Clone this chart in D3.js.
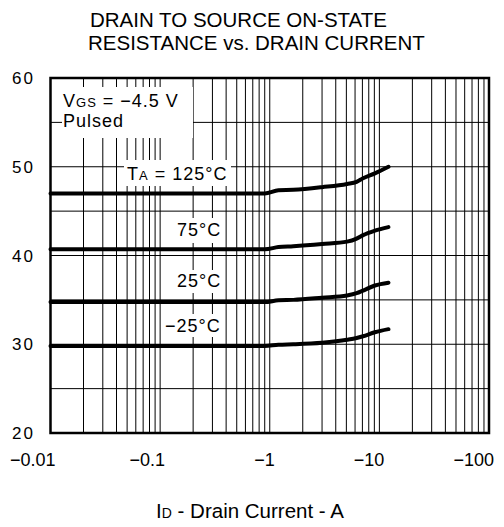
<!DOCTYPE html>
<html>
<head>
<meta charset="utf-8">
<script src="https://cdn.jsdelivr.net/npm/d3@7"></script>
<style>
  body { margin: 0; background: #fff; }
  text { font-family: "Liberation Sans", Arial, sans-serif; fill: #000; }
</style>
</head>
<body>
<script>
// drain current magnitude (A) and on-state resistance (mOhm) per temperature
const current = [0.01, 0.1, 0.9, 1.2, 1.64, 3.0, 5.07, 6.2, 7.1, 9.1, 12.1];
const r125 = [47.0, 47.0, 47.0, 47.35, 47.4, 47.7, 48.06, 48.3, 48.7, 49.26, 50.0];
const r75 = [40.7, 40.7, 40.7, 40.95, 41.05, 41.3, 41.56, 41.9, 42.3, 42.8, 43.2];
const r25 = [34.75, 34.75, 34.75, 34.95, 35.0, 35.25, 35.5, 35.75, 36.05, 36.62, 36.94];
const rm25 = [29.8, 29.8, 29.8, 29.95, 30.0, 30.17, 30.5, 30.7, 30.9, 31.35, 31.7];

const xTicks = [0.01, 0.1, 1, 10, 100];
const xTickLabels = ["\u22120.01", "\u22120.1", "\u22121", "\u221210", "\u2212100"];
const yTicks = [20, 30, 40, 50, 60];

const svg = d3.select("body").append("svg")
  .attr("width", 504)
  .attr("height", 527);

const x = d3.scaleLog().domain([0.01, 100]).range([50.5, 489]);
const y = d3.scaleLinear().domain([20, 60]).range([433, 78]);

// grid
const vLines = [];
for (let k = -2; k < 2; k++) {
  for (let m = 1; m < 10; m++) vLines.push(m * Math.pow(10, k));
}
svg.append("g").selectAll("line").data(vLines).enter().append("line")
  .attr("x1", d => x(d)).attr("x2", d => x(d))
  .attr("y1", y(60)).attr("y2", y(20))
  .attr("stroke", "#000").attr("stroke-width", 1);

svg.append("g").selectAll("line").data(d3.range(25, 60, 5)).enter().append("line")
  .attr("x1", x(0.01)).attr("x2", x(100))
  .attr("y1", d => y(d)).attr("y2", d => y(d))
  .attr("stroke", "#000").attr("stroke-width", 1);

// white label backgrounds cut the grid
const boxes = [[62, 87, 131, 51], [124, 160, 107, 26], [174, 218, 50, 25], [174, 270, 50, 23], [162, 314, 62, 23]];
svg.append("g").selectAll("rect").data(boxes).enter().append("rect")
  .attr("x", d => d[0]).attr("y", d => d[1])
  .attr("width", d => d[2]).attr("height", d => d[3])
  .attr("fill", "#fff");

// frame
svg.append("rect")
  .attr("x", x(0.01)).attr("y", y(60))
  .attr("width", x(100) - x(0.01)).attr("height", y(20) - y(60))
  .attr("fill", "none").attr("stroke", "#000").attr("stroke-width", 2.5);

// curves
const line = d3.line()
  .x((d, i) => x(current[i]))
  .y(d => y(d))
  .curve(d3.curveMonotoneX);

svg.append("g").selectAll("path").data([r125, r75, r25, rm25]).enter().append("path")
  .attr("d", line)
  .attr("fill", "none")
  .attr("stroke", "#000")
  .attr("stroke-width", 4)
  .attr("stroke-linecap", "round");

// axis labels
svg.append("g").selectAll("text").data(yTicks).enter().append("text")
  .attr("x", 35).attr("y", d => y(d))
  .attr("dy", "0.36em")
  .attr("text-anchor", "end")
  .attr("font-size", 17)
  .attr("letter-spacing", 2)
  .text(d => d);

svg.append("g").selectAll("text").data(xTicks).enter().append("text")
  .attr("x", d => x(d) + 5).attr("y", 466)
  .attr("text-anchor", "end")
  .attr("font-size", 18)
  .text((d, i) => xTickLabels[i]);

// title
svg.append("text").attr("x", 90).attr("y", 27).attr("font-size", 20.5)
  .text("DRAIN TO SOURCE ON-STATE");
svg.append("text").attr("x", 88).attr("y", 50).attr("font-size", 20.5)
  .text("RESISTANCE vs. DRAIN CURRENT");

// x title
const xt = svg.append("text").attr("x", 250).attr("y", 518)
  .attr("text-anchor", "middle").attr("font-size", 20.5);
xt.append("tspan").text("I");
xt.append("tspan").attr("font-size", 14).text("D");
xt.append("tspan").text(" - Drain Current - A");

// annotations
const vgs = svg.append("text").attr("x", 63).attr("y", 107)
  .attr("font-size", 18).attr("letter-spacing", 1);
vgs.append("tspan").text("V");
vgs.append("tspan").attr("font-size", 13).text("GS");
vgs.append("tspan").text(" = \u22124.5 V");

svg.append("text").attr("x", 63).attr("y", 127)
  .attr("font-size", 18).attr("letter-spacing", 1).text("Pulsed");

const ta = svg.append("text").attr("x", 127).attr("y", 180)
  .attr("font-size", 18).attr("letter-spacing", 1);
ta.append("tspan").text("T");
ta.append("tspan").attr("font-size", 13).text("A");
ta.append("tspan").text(" = 125\u00b0C");

svg.append("text").attr("x", 177).attr("y", 236)
  .attr("font-size", 18).attr("letter-spacing", 1).text("75\u00b0C");
svg.append("text").attr("x", 177).attr("y", 287)
  .attr("font-size", 18).attr("letter-spacing", 1).text("25\u00b0C");
svg.append("text").attr("x", 165).attr("y", 332)
  .attr("font-size", 18).attr("letter-spacing", 1).text("\u221225\u00b0C");
</script>
</body>
</html>
